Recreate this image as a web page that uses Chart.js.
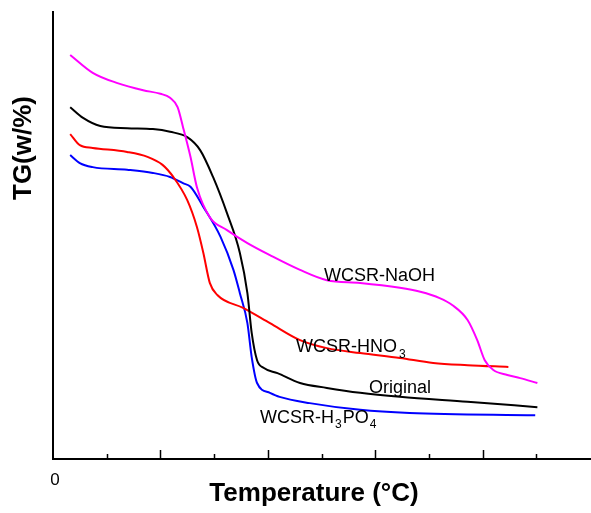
<!DOCTYPE html>
<html>
<head>
<meta charset="utf-8">
<script src="https://cdn.jsdelivr.net/npm/chart.js@4.4.1/dist/chart.umd.min.js"></script>
<style>
  body { margin: 0; background: #fff; }
  canvas { display: block; }
</style>
</head>
<body>
<canvas id="tg" width="591" height="513"></canvas>
<script>
// temperature (°C) and TG readings for each sample
const naohTemp = [16, 37, 60, 84, 100, 109, 116, 121, 128, 134, 146, 162, 181, 202, 230, 255, 286, 323, 342, 360, 372, 386, 395, 402, 410, 423, 435, 451];
const naohTG = [90.4, 86.4, 84.1, 82.5, 81.7, 80.8, 78.7, 74.3, 67.6, 60.8, 54.1, 51.2, 48.3, 45.6, 42.3, 40.0, 39.4, 38.3, 37.4, 36.0, 34.4, 31.1, 26.6, 22.1, 19.9, 18.8, 18.1, 17.0];

const origTemp = [16, 28, 44, 69, 93, 109, 125, 137, 149, 162, 174, 181, 185, 190, 196, 209, 230, 255, 286, 323, 386, 451];
const origTG = [78.7, 76.3, 74.5, 74.0, 73.8, 73.2, 72.0, 69.1, 63.1, 55.0, 46.1, 37.1, 28.2, 22.1, 20.4, 19.2, 17.0, 15.9, 14.8, 13.9, 12.8, 11.6];

const hno3Temp = [16, 25, 37, 69, 88, 102, 112, 125, 134, 140, 146, 153, 177, 202, 230, 255, 286, 323, 354, 386, 424];
const hno3TG = [72.7, 70.2, 69.6, 68.7, 67.6, 65.8, 63.1, 57.9, 51.9, 46.1, 39.4, 36.7, 33.8, 30.4, 26.6, 24.8, 23.7, 22.6, 21.5, 21.0, 20.6];

const h3po4Temp = [16, 25, 37, 69, 93, 109, 121, 128, 140, 156, 168, 174, 181, 185, 190, 202, 211, 239, 286, 332, 449];
const h3po4TG = [68.0, 66.2, 65.3, 64.7, 64.0, 63.1, 61.7, 60.9, 56.4, 49.7, 42.3, 37.1, 30.4, 22.8, 17.0, 14.8, 13.9, 12.5, 11.0, 10.3, 9.8];

const xTicks = [50, 100, 150, 200, 250, 300, 350, 400, 450];

function pts(xs, ys) {
  return xs.map((x, i) => ({ x: x, y: ys[i] }));
}

function line(data, color) {
  return {
    data: data,
    borderColor: color,
    borderWidth: 2,
    pointRadius: 0,
    fill: false,
    cubicInterpolationMode: "monotone"
  };
}

const FONT = "'Liberation Sans', Arial, sans-serif";

// inward ticks, the lone "0", curve names and axis titles
const decor = {
  id: "decor",
  afterDraw(chart) {
    const ctx = chart.ctx;
    const x = chart.scales.x;
    const bottom = chart.chartArea.bottom;
    ctx.save();
    ctx.strokeStyle = "#000";
    ctx.lineWidth = 1.5;
    xTicks.forEach(v => {
      const px = Math.round(x.getPixelForValue(v)) + 0.5;
      const len = v % 100 === 0 ? 9 : 5;
      ctx.beginPath();
      ctx.moveTo(px, bottom);
      ctx.lineTo(px, bottom - len);
      ctx.stroke();
    });

    ctx.fillStyle = "#000";
    ctx.textAlign = "center";
    ctx.font = "17px " + FONT;
    ctx.fillText("0", x.getPixelForValue(0) + 2, 485);

    ctx.textAlign = "left";
    ctx.font = "18px " + FONT;
    ctx.fillText("WCSR-NaOH", 324, 281);
    ctx.fillText("Original", 369, 393);

    let w = ctx.measureText("WCSR-HNO").width;
    ctx.fillText("WCSR-HNO", 296, 352);
    ctx.font = "12px " + FONT;
    ctx.fillText("3", 296 + w + 2, 358);

    ctx.font = "18px " + FONT;
    let cx = 260;
    ctx.fillText("WCSR-H", cx, 423);
    cx += ctx.measureText("WCSR-H").width + 1;
    ctx.font = "12px " + FONT;
    ctx.fillText("3", cx, 428);
    cx += ctx.measureText("3").width + 1;
    ctx.font = "18px " + FONT;
    ctx.fillText("PO", cx, 423);
    cx += ctx.measureText("PO").width + 1;
    ctx.font = "12px " + FONT;
    ctx.fillText("4", cx, 428);

    ctx.font = "bold 26px " + FONT;
    ctx.textAlign = "center";
    ctx.fillText("Temperature (°C)", 314, 501);
    ctx.translate(31, 148);
    ctx.rotate(-Math.PI / 2);
    ctx.fillText("TG(w/%)", 0, 0);
    ctx.restore();
  }
};

new Chart(document.getElementById("tg"), {
  type: "line",
  data: {
    datasets: [
      line(pts(naohTemp, naohTG), "#ff00ff"),
      line(pts(origTemp, origTG), "#000000"),
      line(pts(hno3Temp, hno3TG), "#ff0000"),
      line(pts(h3po4Temp, h3po4TG), "#0000ff")
    ]
  },
  options: {
    responsive: false,
    animation: false,
    layout: { padding: { left: 45, top: 12, right: 1, bottom: 46 } },
    plugins: { legend: { display: false }, tooltip: { enabled: false } },
    scales: {
      x: {
        type: "linear",
        min: 0,
        max: 500,
        grid: { display: false },
        ticks: { display: false },
        border: { display: true, color: "#000", width: 2 }
      },
      y: {
        min: 0,
        max: 100,
        grid: { display: false },
        ticks: { display: false },
        border: { display: true, color: "#000", width: 2 }
      }
    }
  },
  plugins: [decor]
});
</script>
</body>
</html>
